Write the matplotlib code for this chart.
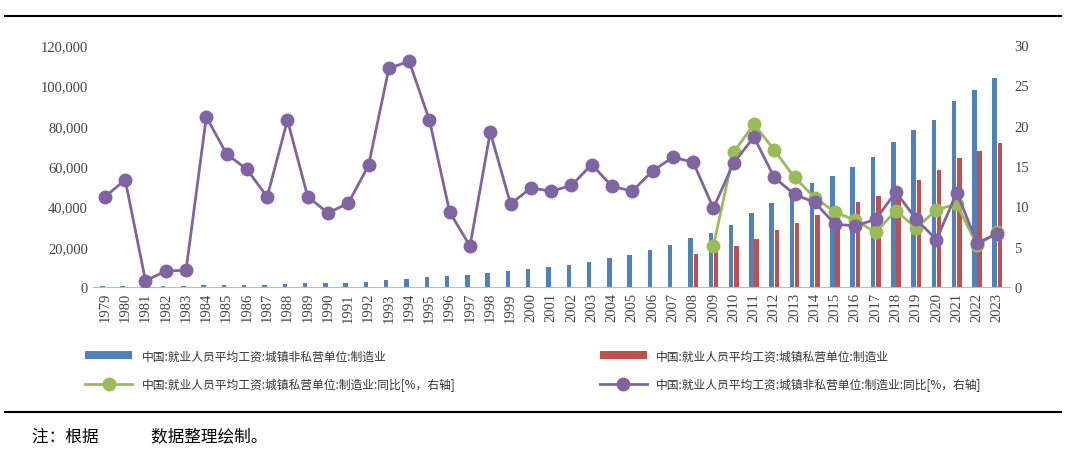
import matplotlib
matplotlib.use("Agg")
import matplotlib.pyplot as plt
import numpy as np

plt.rcParams['font.family'] = ['Noto Sans CJK SC', 'DejaVu Sans']

years = list(range(1979, 2024))
nonpriv_wage = [650, 750, 740, 750, 800, 900, 1000, 1200, 1300, 1600, 1900, 2100, 2300, 2600,
                3500, 4300, 5200, 5600, 5900, 7100, 7800, 8800, 9800, 11000, 12700, 14300,
                15900, 18200, 21100, 24400, 26800, 30900, 36700, 41600, 46400, 51400, 55300,
                59500, 64500, 72100, 78100, 82800, 92500, 97500, 103900]
priv_years = list(range(2008, 2024))
priv_wage = [16400, 17300, 20300, 24100, 28200, 32000, 36000, 38900, 42100, 45000, 49300,
             52900, 57900, 63900, 67400, 71500]
nonpriv_yoy = [11.2, 13.3, 0.8, 2.0, 2.1, 21.1, 16.5, 14.6, 11.2, 20.7, 11.2, 9.2, 10.4, 15.1,
               27.1, 28.0, 20.7, 9.3, 5.1, 19.2, 10.3, 12.3, 11.9, 12.6, 15.2, 12.5, 11.9, 14.4,
               16.1, 15.5, 9.8, 15.4, 18.6, 13.6, 11.5, 10.5, 7.8, 7.6, 8.4, 11.8, 8.4, 5.9,
               11.7, 5.5, 6.6]
priv_yoy_years = list(range(2009, 2024))
priv_yoy = [5.1, 16.7, 20.2, 17.0, 13.6, 11.1, 9.3, 8.3, 6.8, 9.5, 7.3, 9.6, 10.3, 5.2, 6.8]

BLUE = "#4F81BD"
RED = "#C0504D"
GREEN = "#9BBB59"
PURPLE = "#8064A2"

fig = plt.figure(figsize=(10.66, 4.56), dpi=100)
ax = fig.add_axes([0.087, 0.368, 0.86, 0.531])
ax2 = ax.twinx()

x = np.arange(len(years))
xi = {y: i for i, y in enumerate(years)}
w = 0.22
b1 = ax.bar(x - 0.13, nonpriv_wage, w, color=BLUE, label="中国:就业人员平均工资:城镇非私营单位:制造业")
b2 = ax.bar([xi[y] + 0.13 for y in priv_years], priv_wage, w, color=RED,
            label="中国:就业人员平均工资:城镇私营单位:制造业")
l1, = ax2.plot([xi[y] for y in priv_yoy_years], priv_yoy, color=GREEN, lw=2, marker="o", ms=9,
               label="中国:就业人员平均工资:城镇私营单位:制造业:同比[%，右轴]")
l2, = ax2.plot(x, nonpriv_yoy, color=PURPLE, lw=2, marker="o", ms=9,
               label="中国:就业人员平均工资:城镇非私营单位:制造业:同比[%，右轴]")

ax.set_ylim(0, 120000)
ax.set_yticks(range(0, 120001, 20000))
ax.yaxis.set_major_formatter(matplotlib.ticker.FuncFormatter(lambda v, _: f"{int(v):,}"))
ax2.set_ylim(0, 30)
ax2.set_yticks(range(0, 31, 5))
ax.set_xlim(-0.6, len(years) - 0.4)
ax.set_xticks(x)
ax.set_xticklabels([str(y) for y in years], rotation=90, fontsize=9,
                   family=["Liberation Serif"], color="#444444")
for a in (ax, ax2):
    for s in a.spines.values():
        s.set_visible(False)
    a.tick_params(length=0, labelsize=10.5, colors="#444444")
    for t in a.get_yticklabels():
        t.set_family(["Liberation Serif"])
ax.spines["bottom"].set_visible(True)
ax.spines["bottom"].set_color("#BBBBBB")

handles = [b1, l1, b2, l2]
fig.legend(handles, [h.get_label() for h in handles], loc="upper left",
           bbox_to_anchor=(0.07, 0.255), ncol=2, frameon=False, fontsize=8.5,
           columnspacing=12.2, handlelength=4, labelspacing=1.3, labelcolor="#333333")

fig.add_artist(plt.Line2D([0.005, 0.995], [0.962, 0.962], color="black", lw=1.5))
fig.add_artist(plt.Line2D([0.005, 0.995], [0.094, 0.094], color="black", lw=1.5))
fig.text(0.03, 0.04, "注：根据              数据整理绘制。", fontsize=12, va="center")

fig.savefig("out.png", dpi=100, facecolor="white")
